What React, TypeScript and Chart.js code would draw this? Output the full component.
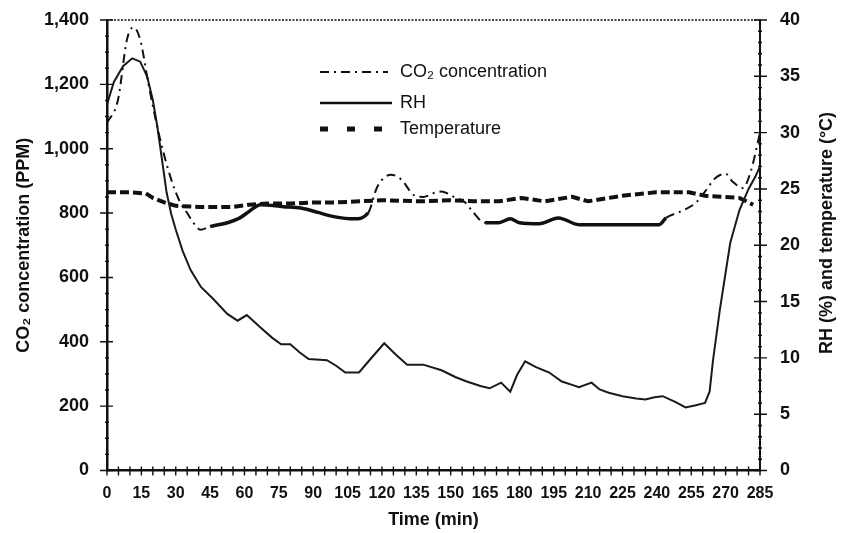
import React, { useEffect, useRef } from 'react';
import { Chart, registerables } from 'chart.js';

Chart.register(...registerables);

// ---------- DATA ----------
const co2Time = [0, 4.8, 8.7, 11.5, 14.5, 18, 22.5, 27.6, 32, 35, 37.7, 40.8, 45, 52.6, 58, 62, 67, 77, 84.6, 92, 99, 108, 114, 118, 124, 128.5, 133.7, 138, 143, 146, 149, 152, 156, 159, 165, 171, 176, 180, 188.6, 197, 206, 219, 230, 241, 244, 250, 257, 261, 265.7, 270, 273, 277.5, 281, 285];
const co2Ppm = [1080, 1152, 1339, 1377, 1339, 1205, 1050, 914, 832, 800, 770, 748, 758, 770, 785, 805, 826, 820, 816, 802, 789, 782, 801, 882, 919, 904, 857, 850, 863, 867, 860, 848, 835, 810, 770, 770, 782, 770, 767, 785, 764, 764, 764, 764, 785, 804, 832, 867, 910, 922, 898, 878, 930, 1050];

const rhTime = [0, 3, 7, 11, 14.5, 17.5, 20, 22, 24, 26, 28, 30, 33, 36.5, 41, 46.5, 52.5, 57, 61, 67, 72, 76, 80, 84, 88, 96, 100, 104, 110, 115, 121, 126, 131, 138, 146, 152, 157, 163, 167, 172, 176, 179, 182.5, 187, 193, 198.5, 203, 206, 211.5, 215, 219, 225, 231, 235, 239, 242.5, 248, 252.5, 257, 261, 263, 264.5, 267.5, 272, 276, 280, 283, 285];
const rhPercent = [32.5, 34.5, 35.9, 36.6, 36.3, 35.0, 32.9, 30.5, 27.6, 24.7, 22.8, 21.4, 19.5, 17.8, 16.3, 15.2, 13.9, 13.3, 13.8, 12.7, 11.8, 11.2, 11.2, 10.5, 9.9, 9.8, 9.3, 8.7, 8.7, 9.9, 11.3, 10.3, 9.4, 9.4, 8.9, 8.3, 7.9, 7.5, 7.3, 7.8, 7.0, 8.5, 9.7, 9.2, 8.7, 7.9, 7.6, 7.4, 7.8, 7.2, 6.9, 6.6, 6.4, 6.3, 6.5, 6.6, 6.1, 5.6, 5.8, 6.0, 7.0, 9.8, 14.3, 20.2, 23.1, 25.0, 26.1, 27.0];

const tempTime = [0, 10, 17, 20, 25, 30, 40, 55, 62, 70, 80, 90, 100, 110, 120, 137, 150, 160, 171, 181, 191, 203, 210, 225, 239.5, 254, 261, 269, 276, 279, 282];
const tempC = [24.7, 24.7, 24.6, 24.2, 23.8, 23.5, 23.4, 23.4, 23.6, 23.7, 23.7, 23.8, 23.8, 23.9, 24.0, 23.9, 24.0, 23.9, 23.9, 24.2, 23.9, 24.3, 23.9, 24.4, 24.7, 24.7, 24.4, 24.3, 24.2, 23.9, 23.6];

const xMin = 0;
const xMax = 285;
const xLabelStep = 15;
const xMinorStep = 5;
const leftMax = 1400;
const leftStep = 200;
const rightMax = 40;
const rightStep = 5;

const seriesNames = ['CO\u2082 concentration', 'RH', 'Temperature'];
const leftTitle = 'CO\u2082 concentration (PPM)';
const rightTitle = 'RH (%) and temperature (\u00B0C)';
const xTitle = 'Time (min)';

// ranges (in minutes) where the CO2 trace is drawn as a heavy solid stroke
const co2SolidRanges = [[42, 114], [160, 242]];

const FONT = "'Liberation Sans', Arial, Helvetica, sans-serif";

const isSolid = (x: number) => co2SolidRanges.some(([a, b]) => x >= a && x < b);

const decorPlugin = {
  id: 'decor',
  afterDraw(chart: any) {
    const { ctx, chartArea, scales } = chart;
    const x = scales.x, y = scales.y, y1 = scales.y1;
    ctx.save();
    // top dotted border
    ctx.strokeStyle = '#444';
    ctx.lineWidth = 2;
    ctx.setLineDash([2, 1.5]);
    ctx.beginPath();
    ctx.moveTo(chartArea.left, chartArea.top);
    ctx.lineTo(chartArea.right, chartArea.top);
    ctx.stroke();
    ctx.setLineDash([]);

    // x crossing ticks
    ctx.strokeStyle = '#111';
    ctx.lineWidth = 1.4;
    ctx.beginPath();
    for (let v = xMin; v <= xMax; v += xMinorStep) {
      const px = x.getPixelForValue(v);
      ctx.moveTo(px, chartArea.bottom - 4);
      ctx.lineTo(px, chartArea.bottom + 5);
    }
    // left ticks
    for (let v = 0; v <= leftMax; v += 50) {
      const py = y.getPixelForValue(v);
      const major = v % leftStep === 0;
      ctx.moveTo(chartArea.left - (major ? 7 : 2), py);
      ctx.lineTo(chartArea.left + (major ? 6 : 2), py);
    }
    // right ticks
    for (let v = 0; v <= rightMax; v += 1) {
      const py = y1.getPixelForValue(v);
      const major = v % rightStep === 0;
      ctx.moveTo(chartArea.right - (major ? 6 : 2), py);
      ctx.lineTo(chartArea.right + (major ? 7 : 2), py);
    }
    ctx.stroke();

    // right axis title (reads bottom to top)
    ctx.fillStyle = '#111';
    ctx.font = `bold 18px ${FONT}`;
    ctx.textAlign = 'center';
    ctx.textBaseline = 'middle';
    ctx.translate(827, 233);
    ctx.rotate(-Math.PI / 2);
    ctx.fillText(rightTitle, 0, 0);
    ctx.restore();

    // legend
    ctx.save();
    const lx0 = 320;
    const rows = [72, 103, 129];
    ctx.strokeStyle = '#111';
    ctx.lineCap = 'butt';
    ctx.lineWidth = 2;
    ctx.setLineDash([9, 5, 2, 5]);
    ctx.beginPath();
    ctx.moveTo(lx0, rows[0]);
    ctx.lineTo(lx0 + 68, rows[0]);
    ctx.stroke();
    ctx.setLineDash([]);
    ctx.lineWidth = 2.5;
    ctx.beginPath();
    ctx.moveTo(lx0, rows[1]);
    ctx.lineTo(lx0 + 72, rows[1]);
    ctx.stroke();
    ctx.lineWidth = 5;
    ctx.setLineDash([8, 19]);
    ctx.beginPath();
    ctx.moveTo(lx0, rows[2]);
    ctx.lineTo(lx0 + 64, rows[2]);
    ctx.stroke();
    ctx.setLineDash([]);
    ctx.fillStyle = '#111';
    ctx.font = `18px ${FONT}`;
    ctx.textAlign = 'left';
    ctx.textBaseline = 'middle';
    seriesNames.forEach((n, i) => ctx.fillText(n, 400, rows[i]));
    ctx.restore();
  },
};

const fixVertical = (width: number) => (s: any) => {
  s.width = width;
  s.paddingTop = 0;
  s.paddingBottom = 0;
};

export default function App() {
  const ref = useRef<HTMLCanvasElement | null>(null);
  useEffect(() => {
    document.body.style.margin = '0';
    const canvas = ref.current;
    if (!canvas) return;
    const chart = new Chart(canvas, {
      type: 'line',
      data: {
        datasets: [
          {
            label: seriesNames[0],
            data: co2Time.map((t, i) => ({ x: t, y: co2Ppm[i] })),
            yAxisID: 'y',
            borderColor: '#111',
            borderWidth: 2,
            borderDash: [9, 5, 2, 5],
            pointRadius: 0,
            tension: 0.35,
            cubicInterpolationMode: 'monotone',
            segment: {
              borderDash: (c: any) => (isSolid(c.p0.parsed.x) ? [] : [9, 5, 2, 5]),
              borderWidth: (c: any) => (isSolid(c.p0.parsed.x) ? 3.5 : 2),
            },
          },
          {
            label: seriesNames[1],
            data: rhTime.map((t, i) => ({ x: t, y: rhPercent[i] })),
            yAxisID: 'y1',
            borderColor: '#1a1a1a',
            borderWidth: 2,
            pointRadius: 0,
            tension: 0,
          },
          {
            label: seriesNames[2],
            data: tempTime.map((t, i) => ({ x: t, y: tempC[i] })),
            yAxisID: 'y1',
            borderColor: '#111',
            borderWidth: 4,
            borderDash: [9, 4],
            pointRadius: 0,
            tension: 0,
          },
        ],
      },
      options: {
        responsive: false,
        animation: false,
        devicePixelRatio: 1,
        layout: { padding: { top: 20, left: 0, right: 0, bottom: 0 } },
        plugins: { legend: { display: false }, tooltip: { enabled: false } },
        scales: {
          x: {
            type: 'linear',
            min: xMin,
            max: xMax,
            grid: { display: false, drawTicks: false },
            border: { display: true, color: '#111', width: 2.5 },
            ticks: {
              stepSize: xLabelStep,
              autoSkip: false,
              maxRotation: 0,
              padding: 13,
              color: '#111',
              font: { family: FONT, size: 16, weight: 'bold' },
            },
            title: {
              display: true,
              text: xTitle,
              color: '#111',
              font: { family: FONT, size: 18, weight: 'bold' },
              padding: { top: 0, bottom: 2 },
            },
            afterFit: (s: any) => { s.height = 62.5; },
          },
          y: {
            type: 'linear',
            position: 'left',
            min: 0,
            max: leftMax,
            grid: { display: false, drawTicks: false },
            border: { display: true, color: '#111', width: 2.5 },
            ticks: {
              stepSize: leftStep,
              padding: 18,
              color: '#111',
              font: { family: FONT, size: 18, weight: 'bold' },
              callback: (v: any) => Number(v).toLocaleString('en-US'),
            },
            title: {
              display: true,
              text: leftTitle,
              color: '#111',
              font: { family: FONT, size: 18, weight: 'bold' },
              padding: { top: 13, bottom: 0 },
            },
            afterFit: fixVertical(107),
          },
          y1: {
            type: 'linear',
            position: 'right',
            min: 0,
            max: rightMax,
            grid: { display: false, drawTicks: false },
            border: { display: true, color: '#111', width: 2 },
            ticks: {
              stepSize: rightStep,
              padding: 20,
              color: '#111',
              font: { family: FONT, size: 18, weight: 'bold' },
            },
            afterFit: fixVertical(86),
          },
        },
      },
      plugins: [decorPlugin],
    } as any);
    return () => chart.destroy();
  }, []);
  return (
    <div style={{ position: 'absolute', left: 0, top: 0, width: 846, height: 533, background: '#fff' }}>
      <canvas ref={ref} width={846} height={533} />
    </div>
  );
}
